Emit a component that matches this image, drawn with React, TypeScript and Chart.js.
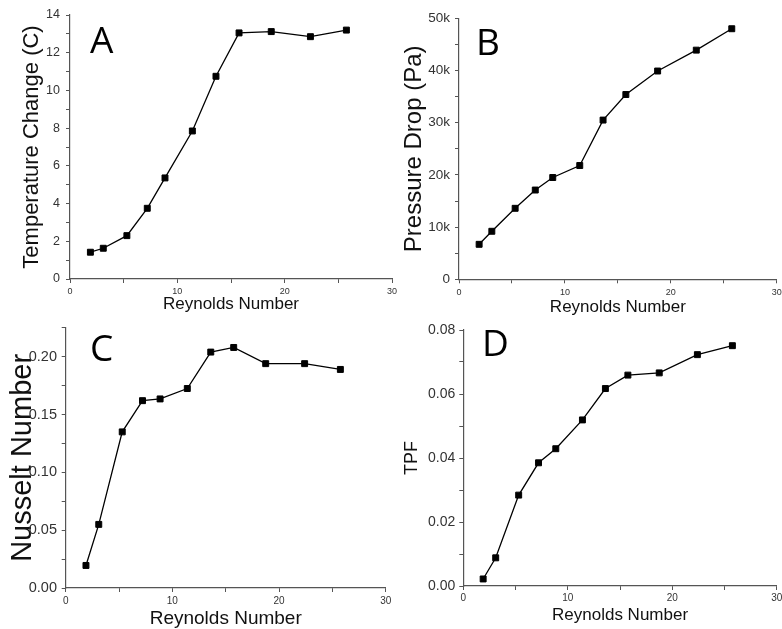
import React, { useEffect, useRef } from "react";
import { Chart, registerables } from "chart.js";

Chart.register(...registerables);
Chart.defaults.font.family = "'Liberation Sans', Arial, Helvetica, sans-serif";

// ---------- data ----------
const reynolds = [1.9, 3.1, 5.3, 7.2, 8.85, 11.4, 13.6, 15.75, 18.75, 22.4, 25.75];
const temperatureChange = [1.42, 1.63, 2.3, 3.75, 5.36, 7.85, 10.75, 13.05, 13.12, 12.85, 13.2];
const pressureDrop = [6700, 9200, 13600, 17100, 19500, 21800, 30500, 35400, 39900, 43900, 48000];
const nusseltNumber = [0.0195, 0.055, 0.135, 0.162, 0.1635, 0.1725, 0.204, 0.208, 0.194, 0.194, 0.189];
const tpf = [0.0022, 0.0088, 0.0284, 0.0385, 0.0429, 0.0519, 0.0617, 0.0659, 0.0666, 0.0723, 0.0751];

// ---------- ticks ----------
const xTickValues = [0, 5, 10, 15, 20, 25, 30];
const xTickLabels = ["0", "", "10", "", "20", "", "30"];
const tempTickValues = [0, 1, 2, 3, 4, 5, 6, 7, 8, 9, 10, 11, 12, 13, 14];
const tempTickLabels = ["0", "", "2", "", "4", "", "6", "", "8", "", "10", "", "12", "", "14"];
const pressureTickValues = [0, 5000, 10000, 15000, 20000, 25000, 30000, 35000, 40000, 45000, 50000];
const pressureTickLabels = ["0", "", "10k", "", "20k", "", "30k", "", "40k", "", "50k"];
const nusseltTickValues = [0, 0.025, 0.05, 0.075, 0.1, 0.125, 0.15, 0.175, 0.2, 0.225];
const nusseltTickLabels = ["0.00", "", "0.05", "", "0.10", "", "0.15", "", "0.20", ""];
const tpfTickValues = [0, 0.01, 0.02, 0.03, 0.04, 0.05, 0.06, 0.07, 0.08];
const tpfTickLabels = ["0.00", "", "0.02", "", "0.04", "", "0.06", "", "0.08"];

const AXIS = "#555";
const TICK_TEXT = "#333";

const letterPlugin = {
  id: "panelLetter",
  afterDraw(chart: any, _args: any, opts: any) {
    const ctx = chart.ctx;
    ctx.save();
    ctx.font = `${opts.size}px 'Open Sans', 'Noto Sans', sans-serif`;
    ctx.fillStyle = "#000";
    ctx.textBaseline = "alphabetic";
    ctx.textAlign = "left";
    ctx.fillText(opts.text, opts.x, opts.y);
    ctx.restore();
  },
};

type Spec = {
  canvas: { left: number; top: number; width: number; height: number };
  area: { left: number; top: number; right: number; bottom: number };
  values: number[];
  yMin: number;
  yMax: number;
  yTicks: number[];
  yLabels: string[];
  yTickSize: number;
  yTickPad: number;
  yTitle: string;
  yTitleSize: number;
  yTitleMid: number;
  xTickSize: number;
  xTickPad: number;
  xTitleSize: number;
  xTitleMid: number;
  letter: string;
  letterX: number;
  letterY: number;
};

const specs: Spec[] = [
  {
    canvas: { left: 0, top: 0, width: 402, height: 314 },
    area: { left: 70, top: 15, right: 392, bottom: 279 },
    values: temperatureChange,
    yMin: 0, yMax: 14, yTicks: tempTickValues, yLabels: tempTickLabels,
    yTickSize: 12.5, yTickPad: 6,
    yTitle: "Temperature Change (C)", yTitleSize: 22, yTitleMid: 32,
    xTickSize: 9, xTickPad: 3.5, xTitleSize: 17, xTitleMid: 304.3,
    letter: "A", letterX: 90, letterY: 53,
  },
  {
    canvas: { left: 391, top: 0, width: 391, height: 322 },
    area: { left: 459, top: 18.3, right: 777.7, bottom: 279.3 },
    values: pressureDrop,
    yMin: 0, yMax: 50000, yTicks: pressureTickValues, yLabels: pressureTickLabels,
    yTickSize: 13.5, yTickPad: 5,
    yTitle: "Pressure Drop (Pa)", yTitleSize: 24, yTitleMid: 414.7,
    xTickSize: 9, xTickPad: 4, xTitleSize: 17, xTitleMid: 307,
    letter: "B", letterX: 476, letterY: 55,
  },
  {
    canvas: { left: 0, top: 314, width: 400, height: 315 },
    area: { left: 65.7, top: 327.8, right: 385.7, bottom: 588 },
    values: nusseltNumber,
    yMin: 0, yMax: 0.225, yTicks: nusseltTickValues, yLabels: nusseltTickLabels,
    yTickSize: 14.5, yTickPad: 4.7,
    yTitle: "Nusselt Number", yTitleSize: 29, yTitleMid: 23.2,
    xTickSize: 10, xTickPad: 3.5, xTitleSize: 19, xTitleMid: 618.4,
    letter: "C", letterX: 90, letterY: 361,
  },
  {
    canvas: { left: 391, top: 314, width: 391, height: 315 },
    area: { left: 463.3, top: 330, right: 779.3, bottom: 586 },
    values: tpf,
    yMin: 0, yMax: 0.08, yTicks: tpfTickValues, yLabels: tpfTickLabels,
    yTickSize: 14, yTickPad: 4,
    yTitle: "TPF", yTitleSize: 18, yTitleMid: 412,
    xTickSize: 10, xTickPad: 2.5, xTitleSize: 17, xTitleMid: 615.7,
    letter: "D", letterX: 482, letterY: 356,
  },
];

function Panel({ spec }: { spec: Spec }) {
  const ref = useRef<HTMLCanvasElement | null>(null);
  useEffect(() => {
    const s = spec;
    const c = s.canvas;
    const yWidth = s.area.left - c.left;
    const padTop = s.area.top - c.top;
    const padRight = c.left + c.width - s.area.right;
    const xHeight = c.top + c.height - s.area.bottom;
    const xTitlePadBottom = c.top + c.height - s.xTitleMid - s.xTitleSize / 2;
    const yTitlePadTop = s.yTitleMid - c.left - s.yTitleSize / 2;

    const chart = new Chart(ref.current as HTMLCanvasElement, {
      type: "line",
      data: {
        datasets: [
          {
            data: reynolds.map((x, i) => ({ x, y: s.values[i] })),
            borderColor: "#000",
            borderWidth: 1.3,
            pointStyle: "rect",
            pointRadius: 4.2,
            pointBackgroundColor: "#000",
            pointBorderColor: "#000",
            pointBorderWidth: 1,
            tension: 0,
            fill: false,
          },
        ],
      },
      options: {
        responsive: false,
        animation: false,
        devicePixelRatio: 1,
        layout: { padding: { left: 0, top: padTop, right: padRight, bottom: 0 } },
        plugins: {
          legend: { display: false },
          tooltip: { enabled: false },
          title: { display: false },
          panelLetter: { text: s.letter, x: s.letterX - c.left, y: s.letterY - c.top, size: 37 },
        } as any,
        scales: {
          x: {
            type: "linear",
            position: "bottom",
            min: 0,
            max: 30,
            afterBuildTicks: (scale: any) => {
              scale.ticks = xTickValues.map((v) => ({ value: v }));
            },
            afterFit: (scale: any) => {
              scale.height = xHeight;
              scale.paddingLeft = 0;
              scale.paddingRight = 0;
            },
            grid: { drawOnChartArea: false, drawTicks: true, tickLength: 4, color: AXIS, lineWidth: 1 },
            border: { display: true, color: AXIS, width: 1.2 },
            ticks: {
              autoSkip: false,
              maxRotation: 0,
              minRotation: 0,
              color: TICK_TEXT,
              padding: s.xTickPad,
              font: { size: s.xTickSize },
              callback: (_v: any, i: number) => xTickLabels[i],
            },
            title: {
              display: true,
              text: "Reynolds Number",
              color: "#111",
              font: { size: s.xTitleSize, lineHeight: 1 },
              padding: { top: 0, bottom: xTitlePadBottom },
            },
          },
          y: {
            type: "linear",
            position: "left",
            min: s.yMin,
            max: s.yMax,
            afterBuildTicks: (scale: any) => {
              scale.ticks = s.yTicks.map((v) => ({ value: v }));
            },
            afterFit: (scale: any) => {
              scale.width = yWidth;
              scale.paddingTop = 0;
              scale.paddingBottom = 0;
            },
            grid: { drawOnChartArea: false, drawTicks: true, tickLength: 4, color: AXIS, lineWidth: 1 },
            border: { display: true, color: AXIS, width: 1.2 },
            ticks: {
              autoSkip: false,
              color: TICK_TEXT,
              padding: s.yTickPad,
              font: { size: s.yTickSize },
              callback: (_v: any, i: number) => s.yLabels[i],
            },
            title: {
              display: true,
              text: s.yTitle,
              color: "#111",
              font: { size: s.yTitleSize, lineHeight: 1 },
              padding: { top: yTitlePadTop, bottom: 0 },
            },
          },
        },
      } as any,
      plugins: [letterPlugin],
    });
    return () => chart.destroy();
  }, [spec]);

  return (
    <canvas
      ref={ref}
      width={spec.canvas.width}
      height={spec.canvas.height}
      style={{
        position: "absolute",
        left: spec.canvas.left,
        top: spec.canvas.top,
        width: spec.canvas.width,
        height: spec.canvas.height,
      }}
    />
  );
}

export default function App() {
  return (
    <div
      style={{
        position: "absolute",
        left: 0,
        top: 0,
        width: 782,
        height: 629,
        overflow: "hidden",
        background: "#fff",
      }}
    >
      {specs.map((s, i) => (
        <Panel key={i} spec={s} />
      ))}
    </div>
  );
}
